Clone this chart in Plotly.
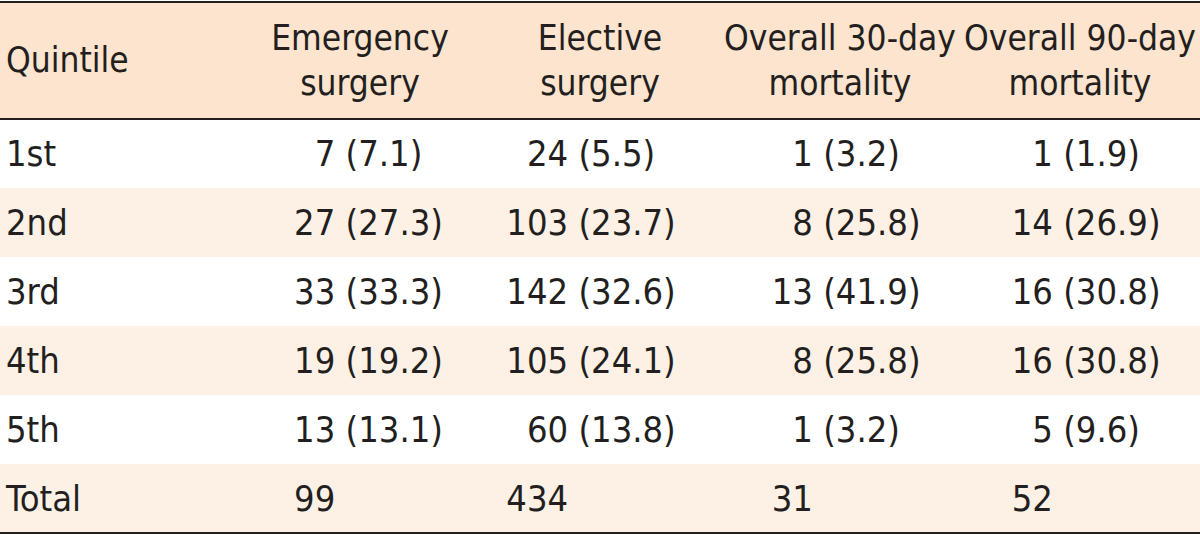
import plotly.graph_objects as go

# ---- data ----
quintiles = ["1st", "2nd", "3rd", "4th", "5th", "Total"]
emergency_n = [7, 27, 33, 19, 13, 99]
emergency_pct = [7.1, 27.3, 33.3, 19.2, 13.1]
elective_n = [24, 103, 142, 105, 60, 434]
elective_pct = [5.5, 23.7, 32.6, 24.1, 13.8]
mort30_n = [1, 8, 13, 8, 1, 31]
mort30_pct = [3.2, 25.8, 41.9, 25.8, 3.2]
mort90_n = [1, 14, 16, 16, 5, 52]
mort90_pct = [1.9, 26.9, 30.8, 30.8, 9.6]
header_first = "Quintile"
headers = ["Emergency<br>surgery", "Elective<br>surgery",
           "Overall 30-day<br>mortality", "Overall 90-day<br>mortality"]

# ---- style ----
HEAD_BG = "#fce4ce"
ALT_BG = "#fdf1e6"
TXT = "#231f20"
FONT = "DejaVu Sans Condensed, Liberation Sans Narrow, Liberation Sans, Arial, sans-serif"
FS = 36
FS_HEAD = 35
W, H = 1200, 535
ROW_PX, HEAD_PX, TOP_PX = 69, 117, 2
TEXT_SHIFT = 3 / ROW_PX
NB = "\u00a0"

n_rows = len(quintiles)
head_top = -HEAD_PX / ROW_PX
y_top = -(HEAD_PX + TOP_PX) / ROW_PX
y_bot = y_top + H / ROW_PX

fig = go.Figure()

# cell fills (header + striped rows)
y_edges = [head_top] + list(range(n_rows + 1))
z = [[2]] + [[i % 2] for i in range(n_rows)]
fig.add_trace(go.Heatmap(
    x=[0, 5], y=y_edges, z=z, zmin=0, zmax=2,
    colorscale=[[0, "white"], [0.5, ALT_BG], [1, HEAD_BG]],
    showscale=False, hoverinfo="skip",
))

font = dict(family=FONT, size=FS, color=TXT)
hfont = dict(family=FONT, size=FS_HEAD, color=TXT)
row_mid = [i + 0.5 + TEXT_SHIFT for i in range(n_rows)]
head_mid = head_top / 2 + TEXT_SHIFT

# header texts
fig.add_trace(go.Scatter(
    x=[6 / 240], y=[head_mid], text=[header_first], mode="text",
    textposition="middle right", textfont=hfont, hoverinfo="skip"))
fig.add_trace(go.Scatter(
    x=[c + 0.5 for c in range(1, 5)], y=[head_mid] * 4, text=headers,
    mode="text", textposition="middle center", textfont=hfont, hoverinfo="skip"))

# first column
fig.add_trace(go.Scatter(
    x=[6 / 240] * n_rows, y=row_mid, text=quintiles, mode="text",
    textposition="middle right", textfont=font, hoverinfo="skip"))

# data columns: counts end at the parenthesis, percentages start there
columns = [(emergency_n, emergency_pct, 0.44),
           (elective_n, elective_pct, 0.41),
           (mort30_n, mort30_pct, 0.43),
           (mort90_n, mort90_pct, 0.43)]
for c, (ns, pcts, paren) in enumerate(columns, start=1):
    xp = c + paren
    fig.add_trace(go.Scatter(
        x=[xp] * n_rows, y=row_mid, text=[f"{n}{NB}" for n in ns],
        mode="text", textposition="middle left", textfont=font, hoverinfo="skip"))
    fig.add_trace(go.Scatter(
        x=[xp] * len(pcts), y=row_mid[:len(pcts)], text=[f"({p})" for p in pcts],
        mode="text", textposition="middle right", textfont=font, hoverinfo="skip"))

# rules
for yv in [head_top, 0, n_rows]:
    fig.add_shape(type="line", xref="paper", yref="y", x0=0, x1=1,
                  y0=yv, y1=yv, line=dict(color=TXT, width=2))

fig.update_layout(
    width=W, height=H,
    margin=dict(l=0, r=0, t=0, b=0),
    paper_bgcolor="white", plot_bgcolor="white",
    showlegend=False,
    xaxis=dict(range=[0, 5], visible=False, fixedrange=True),
    yaxis=dict(range=[y_bot, y_top], visible=False, fixedrange=True),
)
fig.write_html("out.html", post_script="document.body.style.margin='0';",
               config={"displayModeBar": False})
